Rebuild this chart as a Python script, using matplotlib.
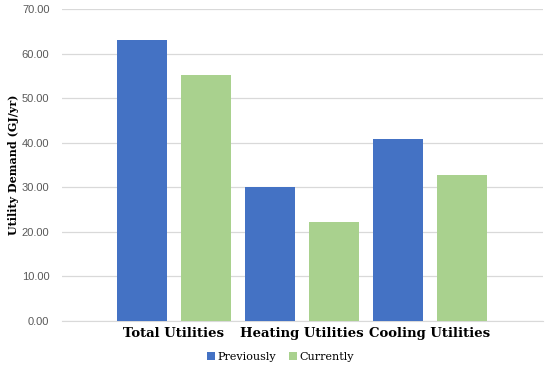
import matplotlib
matplotlib.use('Agg')
import matplotlib.pyplot as plt
import numpy as np

categories = ["Total Utilities", "Heating Utilities", "Cooling Utilities"]
previously = [63.1, 30.1, 40.8]
currently = [55.1, 22.2, 32.8]

blue = "#4472C4"
green = "#A9D18E"

fig = plt.figure(figsize=(5.5, 3.68), dpi=100)
ax = fig.add_axes([0.1127, 0.1277, 0.8745, 0.8478])

x = np.arange(len(categories))
w = 0.39
ax.bar(x - 0.25, previously, w, color=blue, label="Previously", zorder=3)
ax.bar(x + 0.25, currently, w, color=green, label="Currently", zorder=3)

ax.set_xlim(-0.875, 2.883)
ax.set_ylim(0, 70)
ax.set_yticks(np.arange(0, 71, 10))
ax.set_yticklabels(["%.2f" % v for v in np.arange(0, 71, 10)],
                   color="#595959", fontsize=8, family="Liberation Sans")
ax.set_xticks(x)
ax.set_xticklabels(categories, fontsize=9.5, fontweight="bold",
                   family="DejaVu Serif")
ax.tick_params(axis="both", length=0)
ax.tick_params(axis="y", pad=9)
ax.tick_params(axis="x", pad=4)

ax.grid(axis="y", color="#d9d9d9", linewidth=0.9, zorder=0)
for s in ["top", "right", "left"]:
    ax.spines[s].set_visible(False)
ax.spines["bottom"].set_color("#d9d9d9")

ax.set_ylabel("Utility Demand (GJ/yr)", fontsize=8, fontweight="bold",
              family="DejaVu Serif")
ax.yaxis.set_label_coords(-0.09, 0.5)

leg = fig.legend(loc="lower center", bbox_to_anchor=(0.51, -0.01), ncol=2,
                 frameon=False, handlelength=0.7, handleheight=0.7,
                 handletextpad=0.2, columnspacing=1.2,
                 prop={"family": "DejaVu Serif", "size": 8})

plt.savefig("out.png", dpi=100)
